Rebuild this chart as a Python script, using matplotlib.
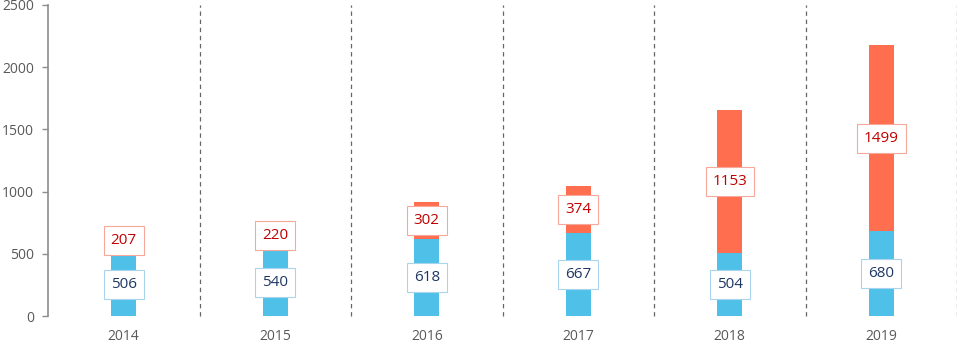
import numpy as np
import matplotlib.pyplot as plt

years = ['2014', '2015', '2016', '2017', '2018', '2019']
blue_vals = [506, 540, 618, 667, 504, 680]
red_vals = [207, 220, 302, 374, 1153, 1499]

plt.rcParams['font.family'] = ['Open Sans', 'DejaVu Sans']

fig = plt.figure(figsize=(9.57, 3.44), dpi=100)
ax = fig.add_axes([48 / 957, 28 / 344, 909 / 957, 311 / 344])

x = np.arange(len(years))
w = 0.165
ax.bar(x, blue_vals, width=w, color='#4FC1E9', zorder=2)
ax.bar(x, red_vals, width=w, bottom=blue_vals, color='#FF6F4F', zorder=2)

# separators between years
for i in range(len(years)):
    ax.axvline(i + 0.5, color='#666666', lw=0.9, ls=(0, (3.5, 3)), zorder=1, clip_on=False)

for xi, b, r in zip(x, blue_vals, red_vals):
    ax.text(xi, b / 2, str(b), ha='center', va='center', fontsize=11, color='#1F3864', zorder=3,
            bbox=dict(boxstyle='square,pad=0.45', fc='white', ec='#A9D4EE', lw=0.8))
    ax.text(xi, b + r / 2, str(r), ha='center', va='center', fontsize=11, color='#C00000', zorder=3,
            bbox=dict(boxstyle='square,pad=0.45', fc='white', ec='#F6A99A', lw=0.8))

ax.set_xlim(-0.5, len(years) - 0.5)
ax.set_ylim(0, 2500)
ax.set_yticks([0, 500, 1000, 1500, 2000, 2500])
ax.set_xticks(x)
ax.set_xticklabels(years)
ax.tick_params(axis='x', length=0, pad=9, labelsize=10, labelcolor='#595959')
ax.tick_params(axis='y', length=4, width=1, color='#8C8C8C', pad=6, labelsize=10, labelcolor='#595959')

for s in ['top', 'right', 'bottom']:
    ax.spines[s].set_visible(False)
ax.spines['left'].set_color('#8C8C8C')
ax.spines['left'].set_linewidth(1.2)

fig.savefig('out.png', dpi=100)
